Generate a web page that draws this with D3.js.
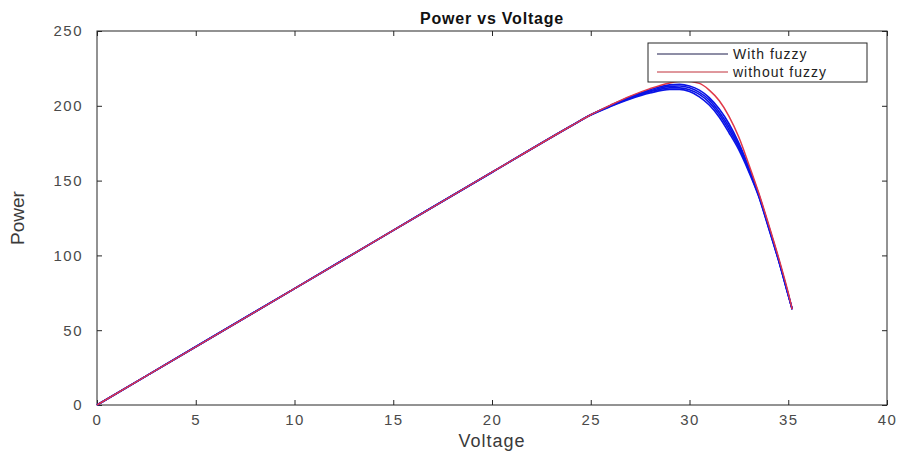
<!DOCTYPE html>
<html><head><meta charset="utf-8">
<script src="https://cdn.jsdelivr.net/npm/d3@7/dist/d3.min.js"></script>
<style>body{margin:0;background:#fff}svg{display:block}</style>
</head><body>
<svg id="c" width="899" height="452"></svg>
<script>
// ---- data ----
const xTicks = [0,5,10,15,20,25,30,35,40];
const yTicks = [0,50,100,150,200,250];
const seriesNames = ["With fuzzy","without fuzzy"];

// without fuzzy (red)
const voltRed = [0,5,10,15,20,24,25,26,27,28,29,29.7,30.5,31,31.5,32,32.5,33,33.5,34,34.5,35,35.2];
const powRed  = [0,38.9,77.8,116.7,155.6,186.5,194,200.5,206.5,211.5,215.3,216.5,215,210.5,203.5,193,179,161,142,121,99,75,64];

// with fuzzy (several blue runs)
const voltBlue = [0,5,10,15,20,24,25,26,27,28,29,29.5,30,30.5,31,31.5,32,32.5,33,33.5,34,34.5,35,35.2];
const powBlue1 = [0,38.9,77.8,116.7,155.6,186.5,194,200.3,206,210.8,214,214.3,213.2,210.5,205.5,198,188,175,159,141,120,98,74,64];
const powBlue2 = [0,38.9,77.8,116.7,155.6,186.5,194,200,205.5,210,213,213.2,212,209,204,196,186,173.5,158,140.5,119.5,97.5,73.7,64];
const powBlue3 = [0,38.9,77.8,116.7,155.6,186.5,193.9,199.8,205,209.3,212,212,210.8,207.6,202.3,194.3,184,172,157,140,119,97.2,73.5,64];
const powBlue4 = [0,38.9,77.8,116.7,155.6,186.5,193.8,199.5,204.5,208.5,211,211,209.5,206,200.5,192.5,182,170.5,156,139.5,118.5,97,73.3,64];

// ---- chart ----
const svg = d3.select("#c");
const L = 97, R = 887, T = 31, B = 405;
const x = d3.scaleLinear().domain([0,40]).range([L,R]);
const y = d3.scaleLinear().domain([0,250]).range([B,T]);
const font = "'Liberation Sans', Arial, sans-serif";
const tickCol = "#4a4a4a";

svg.append("rect").attr("x",L).attr("y",T).attr("width",R-L).attr("height",B-T)
  .attr("fill","#fff").attr("stroke","#262626").attr("stroke-width",1);

const tl = 5;
const gxb = svg.append("g").attr("transform",`translate(0,${B})`)
  .call(d3.axisBottom(x).tickValues(xTicks).tickSize(-tl).tickPadding(9).tickFormat(d3.format("d")));
const gxt = svg.append("g").attr("transform",`translate(0,${T})`)
  .call(d3.axisTop(x).tickValues(xTicks).tickSize(-tl).tickFormat(""));
const gyl = svg.append("g").attr("transform",`translate(${L},0)`)
  .call(d3.axisLeft(y).tickValues(yTicks).tickSize(-tl).tickPadding(14).tickFormat(d3.format("d")));
const gyr = svg.append("g").attr("transform",`translate(${R},0)`)
  .call(d3.axisRight(y).tickValues(yTicks).tickSize(-tl).tickFormat(""));
[gxb,gxt,gyl,gyr].forEach(g=>{
  g.select(".domain").remove();
  g.selectAll(".tick line").attr("stroke","#262626");
  g.selectAll(".tick text").attr("fill",tickCol).style("font-family",font)
    .style("font-size","15px").style("letter-spacing","1.5px");
});

const line = d3.line().x(d=>x(d[0])).y(d=>y(d[1])).curve(d3.curveMonotoneX);
const blues = [powBlue1,powBlue2,powBlue3,powBlue4];
blues.forEach(p=>{
  svg.append("path").datum(voltBlue.map((v,i)=>[v,p[i]]))
    .attr("d",line).attr("fill","none").attr("stroke","#0a14e6").attr("stroke-width",1.6);
});
svg.append("path").datum(voltRed.map((v,i)=>[v,powRed[i]]))
  .attr("d",line).attr("fill","none").attr("stroke","#e03848").attr("stroke-width",1.5);

svg.append("text").attr("x",(L+R)/2).attr("y",24).attr("text-anchor","middle")
  .style("font-family",font).style("font-size","16px").style("font-weight","bold")
  .style("letter-spacing","0.8px").attr("fill","#111").text("Power vs Voltage");
svg.append("text").attr("x",(L+R)/2).attr("y",447).attr("text-anchor","middle")
  .style("font-family",font).style("font-size","18px").style("letter-spacing","1px")
  .attr("fill","#3a3a3a").text("Voltage");
svg.append("text").attr("transform",`translate(24,${(T+B)/2}) rotate(-90)`).attr("text-anchor","middle")
  .style("font-family","'Liberation Sans Narrow', 'Liberation Sans', Arial, sans-serif")
  .style("font-size","19px").attr("fill","#3a3a3a").text("Power");

const lg = svg.append("g");
lg.append("rect").attr("x",648).attr("y",43).attr("width",219).attr("height",39)
  .attr("fill","#fff").attr("stroke","#262626").attr("stroke-width",1);
const legCols = ["#1c1c4c","#c0303a"];
seriesNames.forEach((n,i)=>{
  const yy = 54 + i*18;
  lg.append("line").attr("x1",657).attr("x2",728).attr("y1",yy).attr("y2",yy)
    .attr("stroke",legCols[i]).attr("stroke-width",1);
  lg.append("text").attr("x",733).attr("y",yy+5).style("font-family",font).style("font-size","14px")
    .style("letter-spacing","1px").attr("fill","#222").text(n);
});
</script>
</body></html>
